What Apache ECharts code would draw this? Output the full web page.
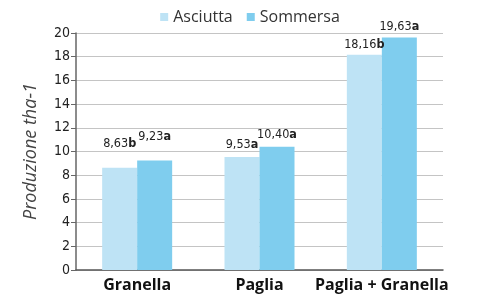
<!DOCTYPE html>
<html><head><meta charset="utf-8">
<script src="https://cdn.jsdelivr.net/npm/echarts@6/dist/echarts.min.js"></script>
<style>html,body{margin:0;padding:0;background:#fff}#c{width:500px;height:300px}</style>
</head><body><div id="c"></div>
<script>
var categories = ['Granella', 'Paglia', 'Paglia + Granella'];
var seriesNames = ['Asciutta', 'Sommersa'];
var asciutta = [8.63, 9.53, 18.16];
var sommersa = [9.23, 10.40, 19.63];
var asciuttaLetters = ['b', 'a', 'b'];
var sommersaLetters = ['a', 'a', 'a'];
var yTicks = [0, 2, 4, 6, 8, 10, 12, 14, 16, 18, 20];

var labelLift = [13, 2, 0];
var colors = ['#BEE3F5', '#7FCDEE'];
var narrow = '"Liberation Sans Narrow", "DejaVu Sans Condensed", Roboto, sans-serif';

function mkSeries(name, vals, letters, color) {
  return {
    name: name, type: 'bar', barWidth: 35, barGap: '0%',
    itemStyle: { color: color },
    data: vals.map(function (v, i) {
      return { value: v, label: { offset: [0, -labelLift[i]] } };
    }),
    label: {
      show: true, position: 'top', distance: 4,
      formatter: function (p) {
        var s = p.value.toFixed(2).replace('.', ',');
        return '{n|' + s + '}{b|' + letters[p.dataIndex] + '}';
      },
      rich: {
        n: { fontFamily: narrow, fontSize: 12.5, color: '#222' },
        b: { fontFamily: narrow, fontSize: 12.5, fontWeight: 'bold', color: '#222' }
      }
    }
  };
}

var chart = echarts.init(document.getElementById('c'));
chart.setOption({
  animation: false,
  legend: {
    top: 4, left: 'center', itemWidth: 8, itemHeight: 8, itemGap: 14,
    icon: 'rect',
    textStyle: { fontFamily: 'Open Sans', fontSize: 16, color: '#333' },
    data: seriesNames
  },
  grid: { left: 76, right: 57, top: 33, bottom: 30 },
  xAxis: {
    type: 'category', data: categories,
    axisLine: { lineStyle: { color: '#555', width: 1.5 } },
    axisTick: { show: false },
    axisLabel: { interval: 0, fontFamily: 'Open Sans', fontWeight: 'bold', fontSize: 16, color: '#111', margin: 7 }
  },
  yAxis: {
    type: 'value', min: yTicks[0], max: yTicks[yTicks.length - 1], interval: 2,
    name: 'Produzione tha-1', nameLocation: 'middle', nameGap: 36,
    nameTextStyle: { fontFamily: 'Open Sans', fontStyle: 'italic', fontSize: 18, color: '#444' },
    axisLine: { show: true, lineStyle: { color: '#666', width: 1.5 } },
    axisTick: { show: true, length: 5, lineStyle: { color: '#666' } },
    axisLabel: { fontFamily: narrow, fontSize: 14, color: '#222', margin: 6 },
    splitLine: { lineStyle: { color: '#c4c4c4' } }
  },
  series: [
    mkSeries(seriesNames[0], asciutta, asciuttaLetters, colors[0]),
    mkSeries(seriesNames[1], sommersa, sommersaLetters, colors[1])
  ]
});
</script></body></html>
